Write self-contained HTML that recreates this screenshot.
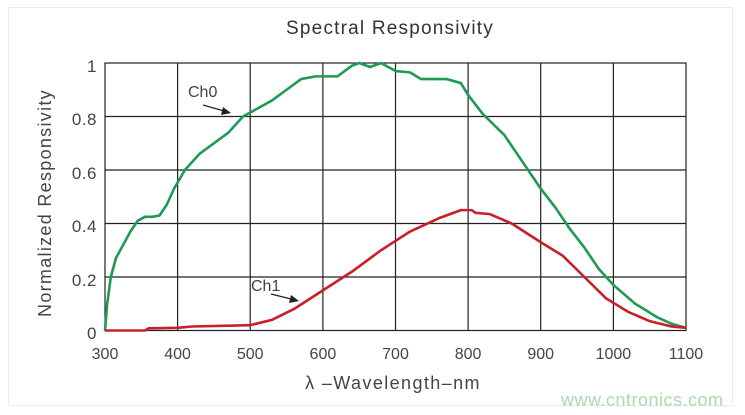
<!DOCTYPE html>
<html><head><meta charset="utf-8"><style>
html,body{margin:0;padding:0;background:#fff;}
svg{display:block;font-family:"Liberation Sans",sans-serif;}
</style></head><body>
<svg width="745" height="415" viewBox="0 0 745 415" xmlns="http://www.w3.org/2000/svg">
<rect x="8.5" y="7.5" width="724" height="398" fill="#fff" stroke="#ececec"/>
<text x="390" y="34" text-anchor="middle" font-size="19" letter-spacing="1.2" fill="#333">Spectral Responsivity</text>
<g stroke="#222" stroke-width="1.2" fill="none">
<rect x="105" y="63" width="581" height="267.5"/>
<line x1="177.6" y1="63" x2="177.6" y2="330.5"/>
<line x1="250.2" y1="63" x2="250.2" y2="330.5"/>
<line x1="322.9" y1="63" x2="322.9" y2="330.5"/>
<line x1="395.5" y1="63" x2="395.5" y2="330.5"/>
<line x1="468.1" y1="63" x2="468.1" y2="330.5"/>
<line x1="540.7" y1="63" x2="540.7" y2="330.5"/>
<line x1="613.4" y1="63" x2="613.4" y2="330.5"/>
<line x1="105" y1="116.5" x2="686" y2="116.5"/>
<line x1="105" y1="170" x2="686" y2="170"/>
<line x1="105" y1="223.5" x2="686" y2="223.5"/>
<line x1="105" y1="277" x2="686" y2="277"/>
</g>
<g font-size="17" fill="#444" text-anchor="end" letter-spacing="0.5">
<text x="97" y="72">1</text><text x="97" y="125">0.8</text><text x="97" y="179">0.6</text>
<text x="97" y="232">0.4</text><text x="97" y="286">0.2</text><text x="97" y="339">0</text>
</g>
<g font-size="16" fill="#444" text-anchor="middle">
<text x="105" y="359">300</text><text x="177.6" y="359">400</text><text x="250.2" y="359">500</text>
<text x="322.9" y="359">600</text><text x="395.5" y="359">700</text><text x="468.1" y="359">800</text>
<text x="540.7" y="359">900</text><text x="613.4" y="359">1000</text><text x="686" y="359">1100</text>
</g>
<text x="393" y="389" text-anchor="middle" font-size="18" letter-spacing="1.4" fill="#444">λ –Wavelength–nm</text>
<text transform="translate(51,203) rotate(-90)" text-anchor="middle" font-size="18" letter-spacing="1.3" fill="#444">Normalized Responsivity</text>
<g transform="translate(105,330.5) scale(0.7263,-267.5) translate(-300,0)" fill="none" stroke-linejoin="round">
<polyline vector-effect="non-scaling-stroke" stroke="#1e9a55" stroke-width="2.6" points="300,0 303,0.1 308,0.2 315,0.27 325,0.32 335,0.37 345,0.41 355,0.425 365,0.425 375,0.43 385,0.47 395,0.53 410,0.6 430,0.66 450,0.7 470,0.74 490,0.8 510,0.83 530,0.86 550,0.9 570,0.94 590,0.95 620,0.95 640,0.99 650,1.0 665,0.985 680,1.0 700,0.97 720,0.965 735,0.94 770,0.94 790,0.925 800,0.88 820,0.81 850,0.73 880,0.61 900,0.53 920,0.46 940,0.38 960,0.31 980,0.23 1000,0.17 1030,0.1 1060,0.05 1080,0.025 1100,0.01"/>
<polyline vector-effect="non-scaling-stroke" stroke="#c8202a" stroke-width="2.6" points="300,0 355,0 360,0.008 400,0.01 420,0.015 500,0.02 530,0.04 560,0.08 600,0.15 640,0.22 680,0.3 720,0.37 760,0.42 790,0.45 805,0.45 810,0.44 830,0.435 860,0.4 900,0.33 930,0.28 960,0.2 990,0.12 1020,0.07 1050,0.035 1080,0.015 1100,0.01"/>
</g>
<text x="188" y="97" font-size="16" fill="#444">Ch0</text>
<line x1="203" y1="105" x2="224" y2="111" stroke="#222" stroke-width="1.2"/>
<polygon points="231,113 221,115 223,107" fill="#222"/>
<text x="251" y="291" font-size="16" fill="#444">Ch1</text>
<line x1="271" y1="294" x2="291" y2="299" stroke="#222" stroke-width="1.2"/>
<polygon points="299,301 289,303 291,295" fill="#222"/>
<text x="561" y="406" font-size="18" letter-spacing="0.5" fill="#a9dbb0">www.cntronics.com</text>
</svg>
</body></html>
